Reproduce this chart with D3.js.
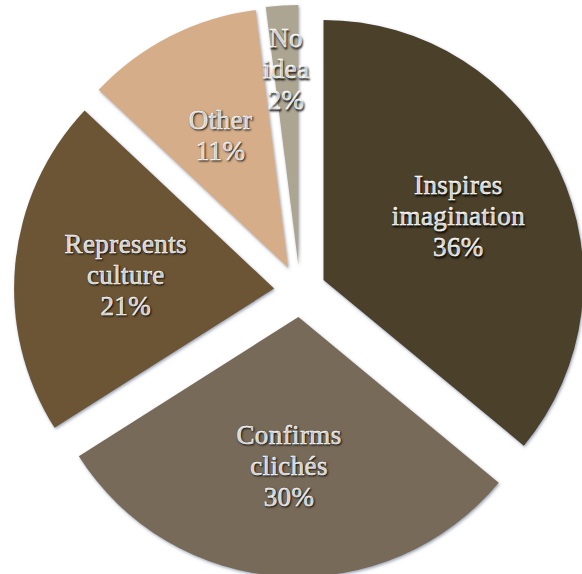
<!DOCTYPE html>
<html>
<head>
<meta charset="utf-8">
<script src="https://cdn.jsdelivr.net/npm/d3@7"></script>
<style>
  html, body { margin: 0; padding: 0; background: #fff; }
  svg { display: block; }
  .lbl { font-family: "Liberation Serif", "DejaVu Serif", serif; font-weight: normal; font-size: 27px; fill: #fff;
         stroke: #fff; stroke-width: 0.5px; letter-spacing: 0.4px;
         text-shadow: 1px 1.5px 2px rgba(0,0,0,0.85); }
</style>
</head>
<body>
<script>
// pie data, clockwise from 12 o'clock
var categories = ["Inspires imagination", "Confirms clichés", "Represents culture", "Other", "No idea"];
var labelLines = [["Inspires", "imagination"], ["Confirms", "clichés"], ["Represents", "culture"], ["Other"], ["No", "idea"]];
var values = [36, 30, 21, 11, 2];
var colors = ["#4b3f2b", "#776a59", "#6c5535", "#d5ae89", "#aca592"];

var width = 582,
    height = 574;

var cx = 300, cy = 291,
    radius = 260,
    explode = 26;

var svg = d3.select("body")
  .append("svg")
  .attr("width", width)
  .attr("height", height);

// soft bluish shadow round the slices
var defs = svg.append("defs");
var f = defs.append("filter").attr("id", "sh")
  .attr("x", "-10%").attr("y", "-10%").attr("width", "120%").attr("height", "120%");
f.append("feDropShadow")
  .attr("dx", 1).attr("dy", 1.5)
  .attr("stdDeviation", 1.6)
  .attr("flood-color", "#4a5a75")
  .attr("flood-opacity", 0.55);

var pie = d3.pie().sort(null).value(function(d){ return d; });
var arcs = pie(values);

var arc = d3.arc().innerRadius(0).outerRadius(radius);

var g = svg.append("g").attr("transform", "translate(" + cx + "," + cy + ")");

function mid(d){ return (d.startAngle + d.endAngle) / 2; }

//slices, each pushed out along its middle angle
g.selectAll(".slice")
  .data(arcs)
  .enter()
  .append("path")
  .attr("class", "slice")
  .attr("d", arc)
  .attr("fill", function(d, i){ return colors[i]; })
  .attr("filter", "url(#sh)")
  .attr("transform", function(d){
    var a = mid(d);
    return "translate(" + (Math.sin(a) * explode) + "," + (-Math.cos(a) * explode) + ")";
  });

//labels
var lineH = 31;
var labels = g.selectAll(".lbl")
  .data(arcs)
  .enter()
  .append("text")
  .attr("class", "lbl")
  .attr("text-anchor", "middle")
  .attr("transform", function(d){
    var a = mid(d);
    var r = (d.value < 5) ? 222 : 175;
    return "translate(" + (Math.sin(a) * r) + "," + (-Math.cos(a) * r) + ")";
  });

labels.each(function(d, i){
  var lines = labelLines[i].concat([d.value + "%"]);
  var t = d3.select(this);
  lines.forEach(function(s, k){
    t.append("tspan")
      .attr("x", 0)
      .attr("y", (k - (lines.length - 1) / 2) * lineH + 9)
      .text(s);
  });
});
</script>
</body>
</html>
